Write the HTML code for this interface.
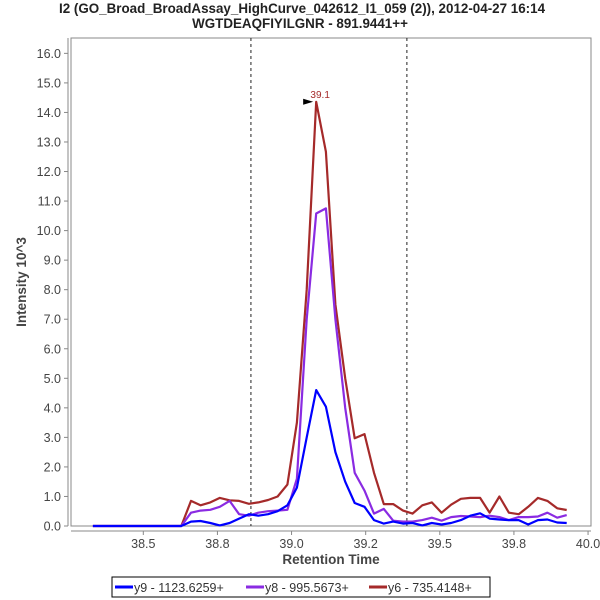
<!DOCTYPE html>
<html><head><meta charset="utf-8"><style>
body{margin:0;background:#fff;}
svg{display:block;font-family:"Liberation Sans","DejaVu Sans",sans-serif;}
</style></head><body>
<svg id="chart" width="600" height="600">
<text x="302" y="13" text-anchor="middle" font-size="13.4" font-weight="bold" fill="#222">I2 (GO_Broad_BroadAssay_HighCurve_042612_I1_059 (2)), 2012-04-27 16:14</text>
<text x="300" y="28" text-anchor="middle" font-size="13.4" font-weight="bold" fill="#222">WGTDEAQFIYILGNR - 891.9441++</text>
<rect x="71" y="38" width="520" height="488" fill="#fff" stroke="#888"/>
<line x1="68" y1="38" x2="68" y2="526" stroke="#888"/>
<line x1="71" y1="531" x2="591" y2="531" stroke="#888"/>
<g id="yticks"></g><g id="xticks"></g><g id="marks"></g><g id="series"></g>
<text x="331" y="564" text-anchor="middle" font-size="13.5" font-weight="bold" fill="#444">Retention Time</text>
<text transform="translate(26,282) rotate(-90)" text-anchor="middle" font-size="13.5" font-weight="bold" fill="#444">Intensity 10^3</text>
<g>
<rect x="112" y="577" width="378" height="20" fill="#fff" stroke="#000"/>
<line x1="115" y1="587" x2="133" y2="587" stroke="#0000ff" stroke-width="3"/>
<text x="134" y="592" font-size="12.5" fill="#333">y9 - 1123.6259+</text>
<line x1="246" y1="587" x2="264" y2="587" stroke="#8a2be2" stroke-width="3"/>
<text x="265" y="592" font-size="12.5" fill="#333">y8 - 995.5673+</text>
<line x1="369" y1="587" x2="387" y2="587" stroke="#a52a2a" stroke-width="3"/>
<text x="388" y="592" font-size="12.5" fill="#333">y6 - 735.4148+</text>
</g>
</svg>
<script>
const times=[38.33,38.628,38.661,38.693,38.726,38.758,38.791,38.823,38.856,38.888,38.921,38.953,38.986,39.018,39.051,39.083,39.116,39.148,39.181,39.213,39.246,39.278,39.311,39.343,39.376,39.408,39.441,39.473,39.506,39.538,39.571,39.603,39.636,39.668,39.701,39.733,39.766,39.798,39.831,39.863,39.896,39.928];
const y9=[0,0,0.15,0.17,0.1,0.02,0.1,0.25,0.4,0.35,0.4,0.5,0.7,1.3,3.0,4.6,4.04,2.5,1.5,0.78,0.65,0.2,0.08,0.15,0.08,0.1,0.02,0.1,0.05,0.1,0.2,0.35,0.43,0.25,0.22,0.2,0.2,0.05,0.2,0.22,0.12,0.1];
const y8=[0,0,0.45,0.52,0.55,0.65,0.85,0.4,0.35,0.45,0.5,0.52,0.55,1.6,7.0,10.58,10.75,7.0,4.0,1.8,1.2,0.42,0.58,0.18,0.15,0.15,0.2,0.28,0.18,0.3,0.34,0.32,0.3,0.35,0.3,0.2,0.3,0.3,0.32,0.45,0.28,0.37];
const y6=[0,0,0.85,0.7,0.8,0.95,0.87,0.85,0.75,0.8,0.88,1.0,1.4,3.5,8.0,14.36,12.67,7.5,5.0,2.97,3.11,1.8,0.74,0.74,0.52,0.42,0.7,0.8,0.45,0.72,0.92,0.95,0.95,0.45,1.0,0.45,0.4,0.65,0.95,0.85,0.6,0.54];
const yTicks=[0,1,2,3,4,5,6,7,8,9,10,11,12,13,14,15,16];
const xTicks=[38.5,38.75,39.0,39.25,39.5,39.75,40.0];
const xTickLabels=["38.5","38.8","39.0","39.2","39.5","39.8","40.0"];
const boundaries=[38.863,39.389];
const peakTime=39.083, peakValue=14.36, peakLabel="39.1";
const NS="http://www.w3.org/2000/svg";
function X(t){return 143.3+(t-38.5)*296.5;}
function Y(v){return 526-v*29.54;}
function mk(tag,attrs,parent){const e=document.createElementNS(NS,tag);for(const k in attrs)e.setAttribute(k,attrs[k]);document.getElementById(parent).appendChild(e);return e;}
yTicks.forEach(v=>{
  const l=mk('line',{x1:64,x2:68,y1:Y(v),y2:Y(v),stroke:'#888'},'yticks');
  
  
  const t=mk('text',{x:61,y:Y(v)+4.5,'text-anchor':'end','font-size':12.5,fill:'#444'},'yticks');
  t.textContent=v.toFixed(1);
  
  
});
xTicks.forEach((v,i)=>{
  const l=mk('line',{x1:X(v),x2:X(v),y1:531,y2:535,stroke:'#888'},'xticks');
  
  
  const t=mk('text',{x:X(v),y:548,'text-anchor':'middle','font-size':12.5,fill:'#444'},'xticks');
  t.textContent=xTickLabels[i];
  
  
});
boundaries.forEach(b=>{
  const l=mk('line',{x1:X(b),x2:X(b),y1:38,y2:526,stroke:'#222','stroke-dasharray':'3,3','stroke-width':1},'marks');
  
  
});
[[y6,'#a52a2a','series-y6'],[y8,'#8a2be2','series-y8'],[y9,'#0000ff','series-y9']].forEach(s=>{
  const d=s[0].map((v,i)=>(i?'L':'M')+X(times[i]).toFixed(1)+','+Y(v).toFixed(1)).join('');
  const p=mk('path',{d:d,fill:'none',stroke:s[1],'stroke-width':2.2,'stroke-linejoin':'round'},'series');
  
  
});
const px=X(peakTime),py=Y(peakValue);
const a=mk('polygon',{points:(px-13)+','+(py-3)+' '+(px-3)+','+py+' '+(px-13)+','+(py+3),fill:'#000'},'marks');


const pl=mk('text',{x:px+4,y:py-4,'text-anchor':'middle','font-size':10,fill:'#a52a2a'},'marks');
pl.textContent=peakLabel;


</script>
</body></html>
